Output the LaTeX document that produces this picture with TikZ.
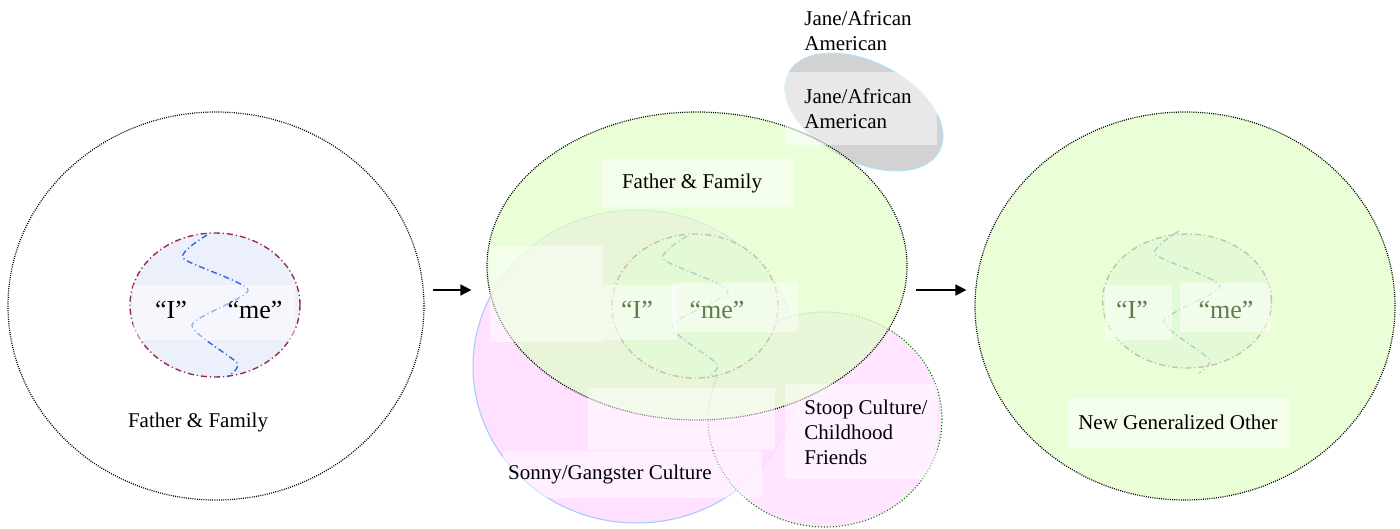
\documentclass[tikz,border=0pt]{standalone}
\usepackage{fontspec}
\setmainfont{Liberation Serif}
\usetikzlibrary{shapes.geometric, arrows.meta}
\definecolor{leafgreen}{RGB}{225,255,200}
\definecolor{softpink}{RGB}{255,224,255}
\definecolor{corefill}{RGB}{236,240,251}
\definecolor{coreedge}{RGB}{150,40,90}
\definecolor{zigblue}{RGB}{50,100,230}
\definecolor{fadetext}{RGB}{95,125,75}
\definecolor{janegrey}{RGB}{210,210,210}
\definecolor{skyedge}{RGB}{160,200,250}
\tikzset{
  blob/.style={ellipse, inner sep=0pt},
  ring/.style={blob, line width=0.6pt, dash pattern=on 0.5pt off 0.6pt},
  core/.style={blob, fill=corefill, draw=coreedge, line width=0.7pt,
               dash pattern=on 3pt off 1.5pt on 0.6pt off 1.5pt},
  zig/.style={draw=zigblue, line width=0.7pt,
              dash pattern=on 3pt off 1.5pt on 0.6pt off 1.5pt},
  box/.style={fill=white, fill opacity=0.5},
  lbl/.style={font=\fontsize{10.5}{12.5}\selectfont, inner sep=0pt, align=left},
  say/.style={font=\fontsize{13}{15}\selectfont, inner sep=0pt},
  arr/.style={-{Triangle[length=5.5pt,width=5.5pt]}, line width=0.8pt},
  zigzag/.pic={\draw[zig] plot[smooth, tension=0.4] coordinates
    {(-8,-70) (-32,-47) (33,-15) (-23,20) (22,58) (12,72)};}
}

\begin{document}
\begin{tikzpicture}[x=0.5pt, y=-0.5pt]
  \useasboundingbox (0,0) rectangle (1400,529);
  % first stage
  \node[ring, draw=black, minimum width=208pt, minimum height=194pt] (home) at (216,306) {};
  \node[core, minimum width=85pt, minimum height=72pt] (coreA) at (215,305) {};
  \pic at (coreA) {zigzag};
  \fill[box] (133,285) rectangle (295,340);
  \node[say] (iA) at (171,310) {“I”};
  \node[say] (meA) at (255,310) {“me”};
  \node[lbl] (famA) at (198,422) {Father \& Family};

  % second stage
  \node[blob, fill=janegrey, draw=cyan!30, line width=0.5pt, rotate=-27,
        minimum width=85pt, minimum height=50pt] (jane) at (864,112) {};
  \node[blob, fill=softpink, draw=skyedge, line width=0.5pt,
        minimum width=163.5pt, minimum height=156.5pt] (sonny) at (636.5,366.5) {};
  \node[blob, fill=softpink, fill opacity=0.85, draw=green!50!black, line width=0.6pt,
        dash pattern=on 0.5pt off 1pt, minimum width=117pt, minimum height=107.5pt] (stoop) at (825,419.5) {};
  \node[core, minimum width=83pt, minimum height=72pt] (coreB) at (695,306) {};
  \pic at (coreB) {zigzag};
  \node[ring, fill=leafgreen, fill opacity=0.7, draw=black,
        minimum width=210pt, minimum height=154pt] (peers) at (697,266) {};
  \fill[box] (490,246) rectangle (603,342);
  \fill[box] (602,159) rectangle (793,207);
  \fill[box] (603,285) rectangle (677,340);
  \fill[box] (671,283) rectangle (798,332);
  \fill[box] (588,388) rectangle (775,450);
  \fill[box] (503,451) rectangle (762,498);
  \fill[box] (785,384) rectangle (937,479);
  \fill[box] (785,72) rectangle (937,145);
  \node[lbl] (famB) at (692,183) {Father \& Family};
  \node[say, text=fadetext] (iB) at (637,310) {“I”};
  \node[say, text=fadetext] (meB) at (717,310) {“me”};
  \node[lbl] (gang) at (610,474) {Sonny/Gangster Culture};
  \node[lbl, anchor=west] (stoopL) at (804,432) {Stoop Culture/\\Childhood\\Friends};
  \node[lbl, anchor=west] (janeIn) at (804,109) {Jane/African\\American};
  \node[lbl, anchor=west] (janeOut) at (804,31) {Jane/African\\American};

  % third stage
  \node[core, minimum width=84.5pt, minimum height=67pt] (coreC) at (1187,301) {};
  \pic at (coreC) {zigzag};
  \node[ring, fill=leafgreen, fill opacity=0.7, draw=black,
        minimum width=210pt, minimum height=194pt] (newgo) at (1185,306) {};
  \fill[box] (1105,285) rectangle (1172,340);
  \fill[box] (1180,283) rectangle (1270,332);
  \fill[box] (1068,398) rectangle (1290,448);
  \node[say, text=fadetext] (iC) at (1132,310) {“I”};
  \node[say, text=fadetext] (meC) at (1226,310) {“me”};
  \node[lbl] (other) at (1178,422) {New Generalized Other};

  \draw[arr] ([xshift=4pt, yshift=8pt]home.east) -- ([xshift=-7.5pt, yshift=-12pt]peers.west);
  \draw[arr] ([xshift=4pt, yshift=-12pt]peers.east) -- ([xshift=-4pt, yshift=8pt]newgo.west);
\end{tikzpicture}
\end{document}
